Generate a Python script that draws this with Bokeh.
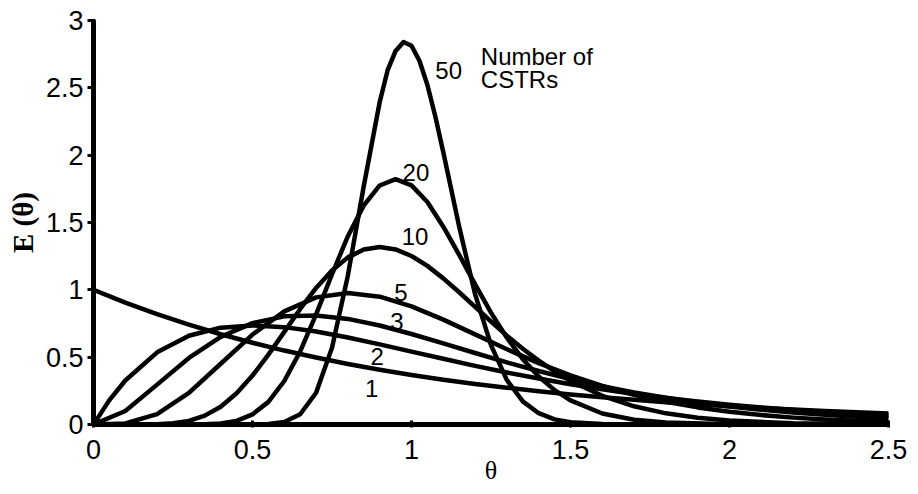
from bokeh.plotting import figure
from bokeh.models import Range1d, FixedTicker
from bokeh.core.properties import value
from bokeh.embed import file_html
from bokeh.resources import INLINE

# ---- data ---------------------------------------------------------------
theta_1 = [0.0, 0.1, 0.2, 0.3, 0.4, 0.5, 0.6, 0.7, 0.8, 0.9, 1.0, 1.1, 1.2, 1.3,
           1.4, 1.5, 1.6, 1.7, 1.8, 1.9, 2.0, 2.1, 2.2, 2.3, 2.4, 2.5]
e_1 = [1.0, 0.905, 0.819, 0.741, 0.670, 0.607, 0.549, 0.497, 0.449, 0.407,
       0.368, 0.333, 0.301, 0.273, 0.247, 0.223, 0.202, 0.183, 0.165, 0.150,
       0.135, 0.122, 0.111, 0.100, 0.091, 0.082]

theta_2 = [0.0, 0.05, 0.1, 0.2, 0.3, 0.4, 0.5, 0.6, 0.7, 0.8, 0.9, 1.0, 1.1, 1.2,
           1.3, 1.4, 1.5, 1.6, 1.7, 1.8, 1.9, 2.0, 2.1, 2.2, 2.3, 2.4, 2.5]
e_2 = [0.0, 0.181, 0.327, 0.536, 0.659, 0.719, 0.736, 0.723, 0.690, 0.646,
       0.595, 0.541, 0.488, 0.435, 0.386, 0.341, 0.299, 0.261, 0.227, 0.197,
       0.170, 0.147, 0.126, 0.108, 0.092, 0.079, 0.067]

theta_3 = [0.0, 0.1, 0.2, 0.3, 0.4, 0.5, 0.6, 0.7, 0.8, 0.9, 1.0, 1.1, 1.2, 1.3,
           1.4, 1.5, 1.6, 1.7, 1.8, 1.9, 2.0, 2.1, 2.2, 2.3, 2.4, 2.5]
e_3 = [0.0, 0.100, 0.296, 0.494, 0.651, 0.753, 0.803, 0.810, 0.784, 0.735,
       0.672, 0.603, 0.531, 0.461, 0.397, 0.337, 0.284, 0.238, 0.198, 0.163,
       0.134, 0.110, 0.089, 0.072, 0.058, 0.047]

theta_5 = [0.0, 0.1, 0.2, 0.3, 0.4, 0.5, 0.6, 0.7, 0.8, 0.9, 1.0, 1.1, 1.2, 1.3,
           1.4, 1.5, 1.6, 1.7, 1.8, 1.9, 2.0, 2.1, 2.2, 2.3, 2.4, 2.5]
e_5 = [0.0, 0.008, 0.077, 0.235, 0.451, 0.668, 0.840, 0.944, 0.977, 0.949,
       0.877, 0.779, 0.669, 0.559, 0.456, 0.365, 0.286, 0.221, 0.169, 0.127,
       0.095, 0.070, 0.051, 0.037, 0.027, 0.019]

theta_10 = [0.0, 0.1, 0.2, 0.25, 0.3, 0.35, 0.4, 0.45, 0.5, 0.55, 0.6, 0.65, 0.7,
            0.75, 0.8, 0.85, 0.9, 0.95, 1.0, 1.05, 1.1, 1.15, 1.2, 1.25, 1.3,
            1.35, 1.4, 1.45, 1.5, 1.6, 1.7, 1.8, 1.9, 2.0, 2.2, 2.5]
e_10 = [0.0, 0.0, 0.002, 0.009, 0.027, 0.066, 0.132, 0.232, 0.363, 0.519, 0.688,
        0.858, 1.014, 1.144, 1.241, 1.299, 1.318, 1.300, 1.251, 1.178, 1.085,
        0.982, 0.873, 0.765, 0.660, 0.562, 0.474, 0.394, 0.324, 0.213, 0.135,
        0.083, 0.050, 0.029, 0.009, 0.002]

theta_20 = [0.0, 0.3, 0.35, 0.4, 0.45, 0.5, 0.55, 0.6, 0.65, 0.7, 0.75, 0.8, 0.85,
            0.9, 0.95, 1.0, 1.05, 1.1, 1.15, 1.2, 1.25, 1.3, 1.35, 1.4, 1.45,
            1.5, 1.6, 1.7, 1.8, 2.0, 2.5]
e_20 = [0.0, 0.0, 0.002, 0.008, 0.027, 0.075, 0.168, 0.323, 0.543, 0.818, 1.116,
        1.398, 1.627, 1.775, 1.822, 1.776, 1.652, 1.469, 1.260, 1.041, 0.831,
        0.644, 0.485, 0.356, 0.255, 0.179, 0.082, 0.035, 0.014, 0.002, 0.0]

theta_50 = [0.0, 0.5, 0.55, 0.6, 0.65, 0.7, 0.75, 0.8, 0.85, 0.9, 0.925, 0.95,
            0.975, 1.0, 1.025, 1.05, 1.075, 1.1, 1.15, 1.2, 1.25, 1.3, 1.35, 1.4,
            1.45, 1.5, 1.6, 1.7, 2.5]
e_50 = [0.0, 0.0, 0.003, 0.018, 0.076, 0.236, 0.570, 1.107, 1.771, 2.395, 2.631,
        2.774, 2.840, 2.812, 2.701, 2.521, 2.287, 2.021, 1.468, 0.967, 0.589,
        0.330, 0.172, 0.084, 0.038, 0.017, 0.003, 0.0, 0.0]

series = [(theta_1, e_1), (theta_2, e_2), (theta_3, e_3), (theta_5, e_5),
          (theta_10, e_10), (theta_20, e_20), (theta_50, e_50)]

curve_labels = ["1", "2", "3", "5", "10", "20", "50"]
curve_label_x = [0.875, 0.892, 0.954, 0.967, 1.011, 1.014, 1.117]
curve_label_y = [0.267, 0.505, 0.765, 0.98, 1.396, 1.87, 2.63]

legend_title = ["Number of", "CSTRs"]
legend_title_x = [1.218, 1.218]
legend_title_y = [2.73, 2.56]

x_ticks = [0, 0.5, 1, 1.5, 2, 2.5]
x_tick_labels = ["0", "0.5", "1", "1.5", "2", "2.5"]
y_ticks = [0, 0.5, 1, 1.5, 2, 2.5, 3]
y_tick_labels = ["0", "0.5", "1", "1.5", "2", "2.5", "3"]

# ---- figure -------------------------------------------------------------
p = figure(frame_width=795, frame_height=404,
           min_border_left=93, min_border_right=22,
           min_border_top=20, min_border_bottom=62,
           x_range=Range1d(0, 2.5), y_range=Range1d(0, 3),
           output_backend="svg", toolbar_location=None)
p.background_fill_color = "white"
p.border_fill_color = "white"
p.outline_line_color = None
p.xgrid.visible = False
p.ygrid.visible = False

for th, e in series:
    p.line(th, e, line_color="black", line_width=4.5, line_join="round",
           line_cap="round")

p.text(x=curve_label_x, y=curve_label_y, text=curve_labels,
       text_font=value("Liberation Sans"), text_font_size="24px",
       text_align="center", text_baseline="middle", text_color="black")
p.text(x=legend_title_x, y=legend_title_y, text=legend_title,
       text_font=value("Liberation Sans"), text_font_size="24px",
       text_align="left", text_baseline="middle", text_color="black")

for ax, ticks, labels in ((p.xaxis, x_ticks, x_tick_labels),
                          (p.yaxis, y_ticks, y_tick_labels)):
    ax.ticker = FixedTicker(ticks=ticks)
    ax.major_label_overrides = {t: l for t, l in zip(ticks, labels)}
    ax.axis_line_width = 5
    ax.axis_line_color = "black"
    ax.major_tick_line_width = 3
    ax.major_tick_line_color = "black"
    ax.minor_tick_line_color = None
    ax.major_label_text_font = "Liberation Sans"
    ax.major_label_text_font_size = "27px"
    ax.major_label_text_color = "black"
    ax.axis_label_text_color = "black"

p.xaxis.major_tick_in = 4
p.xaxis.major_tick_out = 3
p.yaxis.major_tick_in = 2
p.yaxis.major_tick_out = 6
p.xaxis.major_label_standoff = 12
p.yaxis.major_label_standoff = 4

p.xaxis.axis_label = "θ"
p.xaxis.axis_label_text_font = "Liberation Serif"
p.xaxis.axis_label_text_font_style = "normal"
p.xaxis.axis_label_text_font_size = "26px"
p.xaxis.axis_label_standoff = -6

p.yaxis.axis_label = "E (θ)"
p.yaxis.axis_label_text_font = "Liberation Serif"
p.yaxis.axis_label_text_font_style = "bold"
p.yaxis.axis_label_text_font_size = "29px"
p.yaxis.axis_label_standoff = 4

open("out.html", "w").write(file_html(p, INLINE))
